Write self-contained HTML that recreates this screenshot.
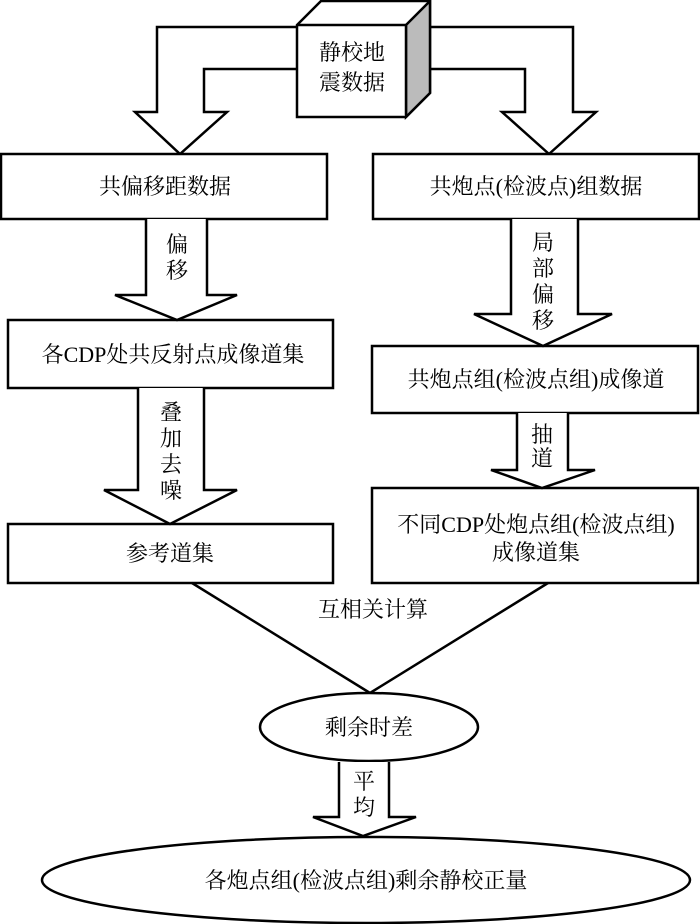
<!DOCTYPE html>
<html><head><meta charset="utf-8"><style>
html,body{margin:0;padding:0;background:#fff;}
svg{display:block;}
text{font-family:"Liberation Serif","Noto Serif CJK SC","Noto Sans CJK SC",serif;font-size:22px;fill:#000;}
</style></head><body>
<svg width="700" height="924" viewBox="0 0 700 924" xmlns="http://www.w3.org/2000/svg">
<g fill="#fff" stroke="#000" stroke-width="2.5" stroke-linejoin="miter">
<!-- split arrows from cube -->
<path d="M297,27 H157 V112 H135 L180,154 L227,112 H204 V69 H297"/>
<path d="M406,27 H573 V112 H596 L549,154 L502,112 H525 V69 H406"/>
<!-- cube -->
<path d="M297,25 L321,1 H430 V93 L406,117 H297 Z"/>
<path d="M406,25 L430,1 V93 L406,117 Z" fill="#bbb"/>
<path d="M297,25 H406 V117"/>
<!-- boxes -->
<rect x="1" y="154" width="326" height="65"/>
<rect x="373" y="154" width="326" height="65"/>
<rect x="8" y="320" width="325" height="68"/>
<rect x="372" y="346" width="326" height="67"/>
<rect x="8" y="524" width="325" height="59"/>
<rect x="372" y="488" width="326" height="95"/>
<!-- arrows -->
<path d="M146,219 V295 H115 L177,320 L237,295 H207 V219"/>
<path d="M511,219 V314 H474 L543,346 L612,314 H578 V219"/>
<path d="M138,388 V490 H104 L170,524 L237,490 H204 V388"/>
<path d="M517,413 V470 H491 L542,488 L595,470 H568 V413"/>
<!-- V -->
<path d="M192,583 L370,693 L548,583" fill="none"/>
<ellipse cx="369" cy="727" rx="109" ry="34"/>
<path d="M339,762 V817 H313 L363,836 L416,817 H389 V762"/>
<ellipse cx="366" cy="880" rx="324" ry="43"/>
</g>
<text x="352" y="60" text-anchor="middle">静校地</text>
<text x="352" y="90" text-anchor="middle">震数据</text>
<text x="165" y="194" text-anchor="middle">共偏移距数据</text>
<text x="536" y="194" text-anchor="middle">共炮点(检波点)组数据</text>
<text x="177" y="252" text-anchor="middle">偏</text>
<text x="177" y="278" text-anchor="middle">移</text>
<text x="543" y="250" text-anchor="middle">局</text>
<text x="543" y="276" text-anchor="middle">部</text>
<text x="543" y="302" text-anchor="middle">偏</text>
<text x="543" y="328" text-anchor="middle">移</text>
<text x="173" y="362" text-anchor="middle">各CDP处共反射点成像道集</text>
<text x="536" y="387" text-anchor="middle">共炮点组(检波点组)成像道</text>
<text x="171" y="420" text-anchor="middle">叠</text>
<text x="171" y="446" text-anchor="middle">加</text>
<text x="171" y="472" text-anchor="middle">去</text>
<text x="171" y="498" text-anchor="middle">噪</text>
<text x="542" y="442" text-anchor="middle">抽</text>
<text x="542" y="466" text-anchor="middle">道</text>
<text x="170" y="561" text-anchor="middle">参考道集</text>
<text x="536" y="532" text-anchor="middle">不同CDP处炮点组(检波点组)</text>
<text x="536" y="560" text-anchor="middle">成像道集</text>
<text x="373" y="617" text-anchor="middle">互相关计算</text>
<text x="369" y="735" text-anchor="middle">剩余时差</text>
<text x="364" y="789" text-anchor="middle">平</text>
<text x="364" y="815" text-anchor="middle">均</text>
<text x="366" y="888" text-anchor="middle">各炮点组(检波点组)剩余静校正量</text>
</svg>
</body></html>
